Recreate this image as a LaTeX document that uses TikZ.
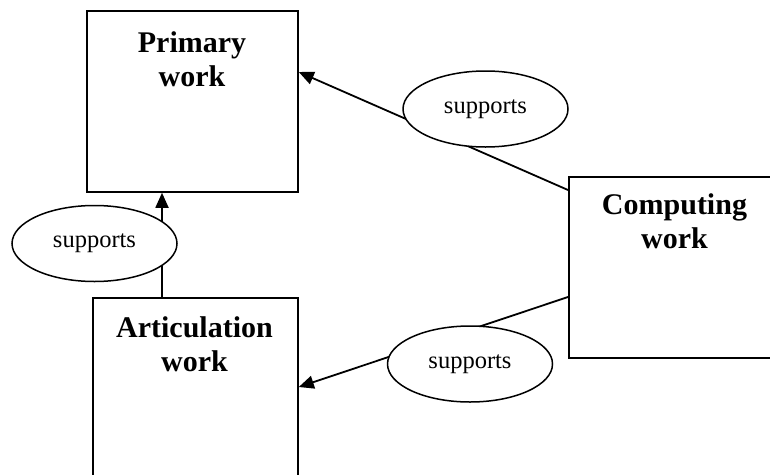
\documentclass[tikz,border=0pt]{standalone}
\usepackage{fontspec}
\setmainfont{Liberation Serif}
\usetikzlibrary{arrows.meta,calc,shapes.geometric,backgrounds}
\begin{document}
\begin{tikzpicture}[x=1pt,y=-1pt,
  box/.style={draw,line width=1.8pt,inner sep=0pt,anchor=north west},
  title/.style={font=\fontsize{30}{34}\selectfont\bfseries,align=center,anchor=north,inner sep=0pt},
  oval/.style={ellipse,draw,line width=1.5pt,fill=white,minimum width=165,minimum height=76,inner sep=0pt,font=\fontsize{24.5}{28}\selectfont},
  conn/.style={line width=1.8pt},
  arr/.style={conn,-{Triangle[length=15pt,width=13pt]}}]
\useasboundingbox (0,0) rectangle (770,474);
% boxes
\node[box,minimum width=211,minimum height=181] (p) at (86,10) {};
\node[box,minimum width=205,minimum height=200] (a) at (92,297) {};
\node[box,minimum width=210,minimum height=181] (c) at (568,176) {};
% titles
\node[title] (pt) at ($(p.north west)+(106,21)$) {Primary\\work};
\node[title] (at) at ($(a.north west)+(102.5,19)$) {Articulation\\work};
\node[title] (ct) at ($(c.north west)+(106.5,17)$) {Computing\\work};
% ellipses
\node[oval] (e1) at (485.5,109) {supports};
\node[oval] (e2) at (94.5,243.5) {supports};
\node[oval] (e3) at (470,364) {supports};
% connectors
\begin{scope}[on background layer]
\fill[white] (0,0) rectangle (770,474);
\draw[arr] ($(c.north west)+(0,14)$) -- ($(p.north east)+(0,62)$);
\draw[arr] ($(a.north west)+(70,0)$) -- ($(p.south west)+(76,0)$);
\draw[arr] ($(c.north west)+(0,121)$) -- ($(a.north east)+(0,90)$);
\end{scope}
\end{tikzpicture}
\end{document}
